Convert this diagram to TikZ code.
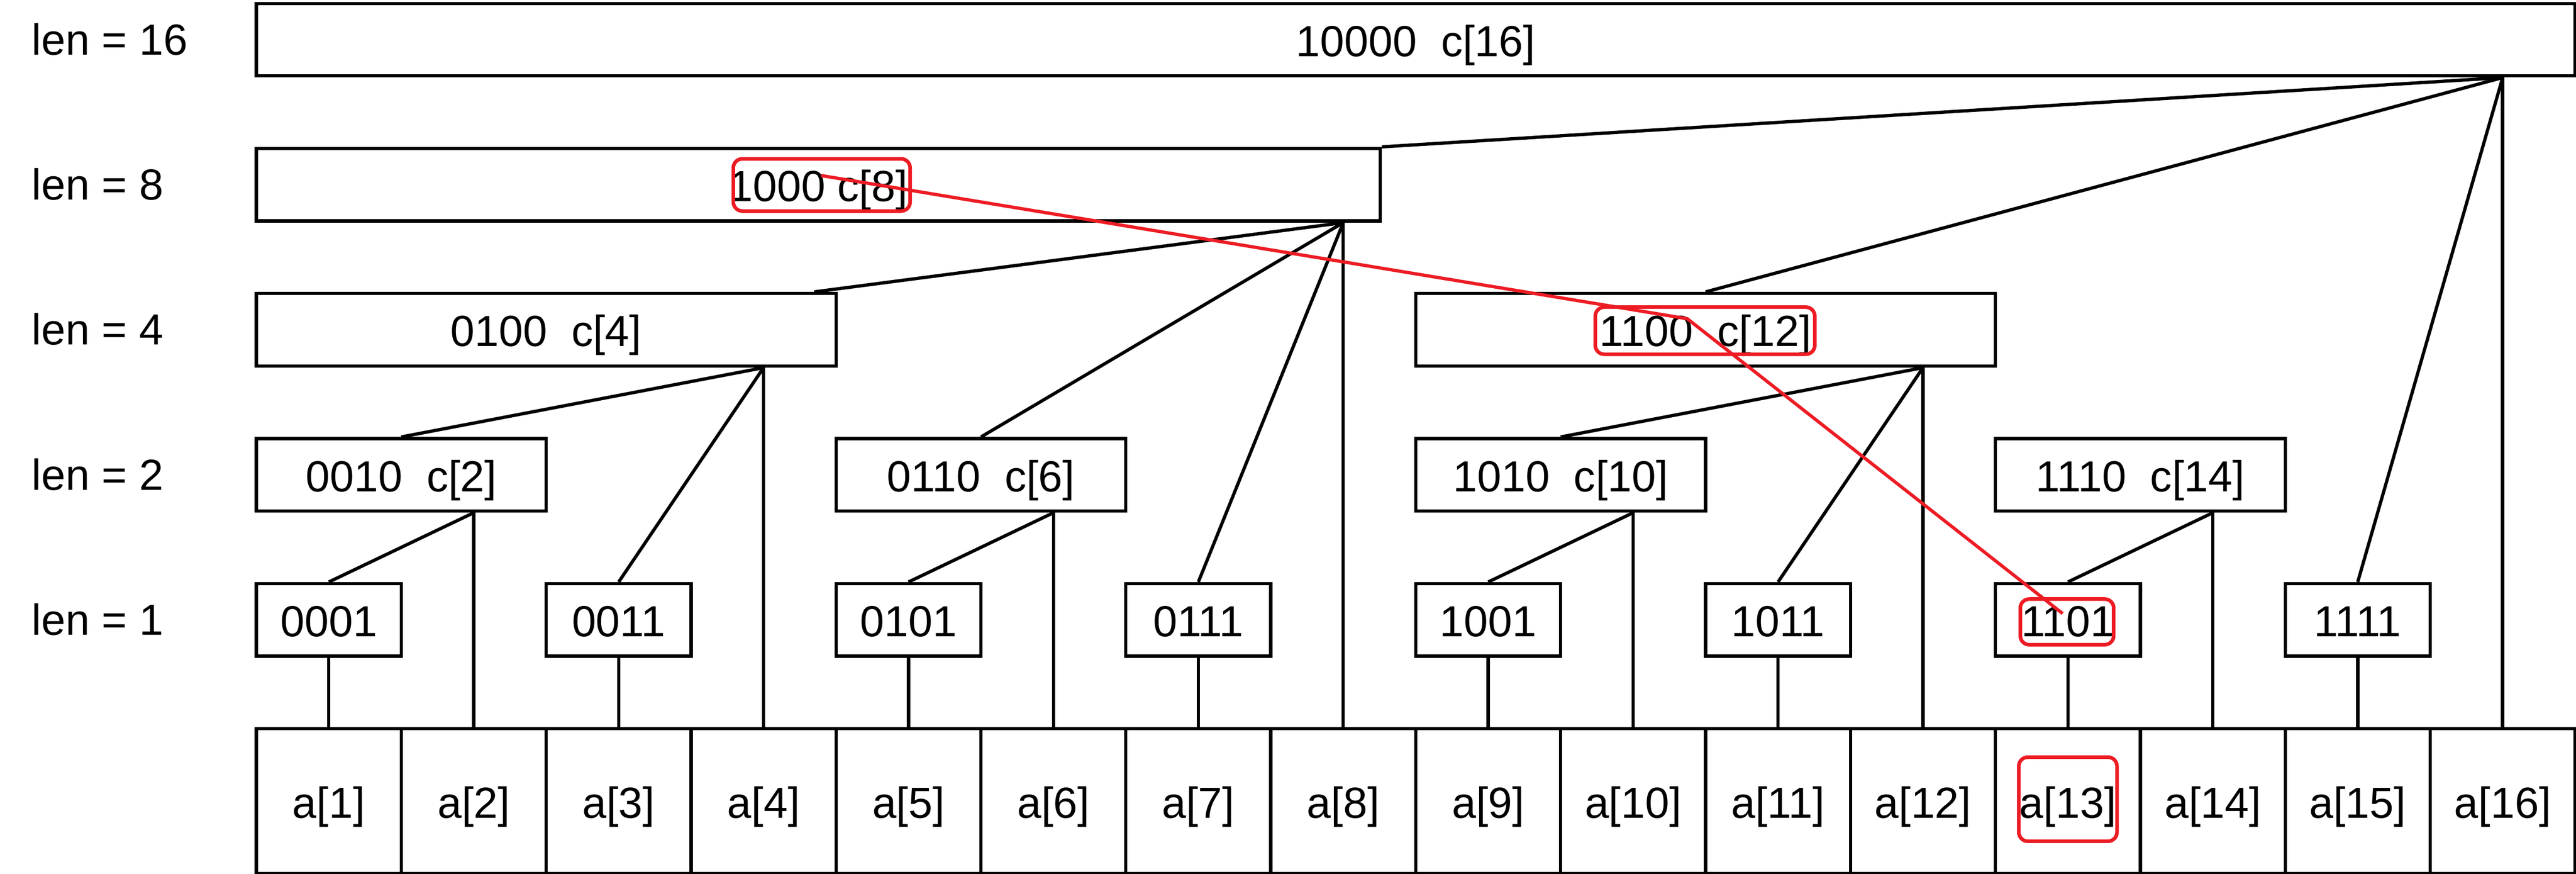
\documentclass[tikz,border=0pt]{standalone}
\usepackage{fontspec}
\setmainfont{Liberation Sans}
\usetikzlibrary{calc}
\definecolor{hired}{RGB}{237,28,36}
\newcommand{\bigtxt}{\fontsize{34.14pt}{41pt}\selectfont}
\begin{document}
\begin{tikzpicture}[
  bx/.style={draw, line width=0.09cm, inner sep=0pt, minimum height=2cm, text height=0.92cm, text depth=0cm, anchor=north west, font=\bigtxt},
  leaf/.style={bx, minimum width=4cm, minimum height=4cm},
  lbl/.style={inner sep=0pt, anchor=base west, font=\bigtxt},
  conn/.style={draw, line width=0.09cm},
  redbox/.style={draw=hired, line width=0.1cm, rounded corners=0.25cm, inner sep=0pt},
  redline/.style={draw=hired, line width=0.09cm}
]
\useasboundingbox (0,0) rectangle (71.1,-24.1);

% level labels
\node[lbl] (l16) at (0.87,-1.51) {len = 16};
\node[lbl] (l8)  at (0.87,-5.51) {len = 8};
\node[lbl] (l4)  at (0.87,-9.51) {len = 4};
\node[lbl] (l2)  at (0.87,-13.51) {len = 2};
\node[lbl] (l1)  at (0.87,-17.51) {len = 1};

% tree boxes
\node[bx, minimum width=64cm] (c16) at (7.03,-0.05) {10000~~c[16]};
\node[bx, minimum width=31.02cm] (c8) at (7.03,-4.05) {1000 c[8]};
\node[bx, minimum width=16cm] (c4) at (7.03,-8.05) {0100~~c[4]};
\node[bx, minimum width=16cm] (c12) at (39.03,-8.05) {1100~~c[12]};
\foreach \i/\t in {2/0010,6/0110,10/1010,14/1110}
  \node[bx, minimum width=8cm] (c\i) at ({7.03+4*(\i-2)},-12.05) {\t~~c[\i]};
\foreach \i/\t in {1/0001,3/0011,5/0101,7/0111,9/1001,11/1011,13/1101,15/1111}
  \node[bx, minimum width=4cm] (c\i) at ({7.03+4*(\i-1)},-16.05) {\t};

% leaves
\foreach \i in {1,...,16}
  \node[leaf] (a\i) at ({7.03+4*(\i-1)},-20.05) {a[\i]};

% connectors
\foreach \i in {1,3,...,15}
  \draw[conn] (c\i.south) -- (a\i.north);
\foreach \i/\j in {2/1,6/5,10/9,14/13} {
  \draw[conn] (a\i.north |- c\i.south) -- (c\j.north);
  \draw[conn] (a\i.north |- c\i.south) -- (a\i.north);
}
\draw[conn] (a4.north |- c4.south) -- (c2.north);
\draw[conn] (a4.north |- c4.south) -- (c3.north);
\draw[conn] (a4.north |- c4.south) -- (a4.north);
\draw[conn] (a12.north |- c12.south) -- (c10.north);
\draw[conn] (a12.north |- c12.south) -- (c11.north);
\draw[conn] (a12.north |- c12.south) -- (a12.north);
\coordinate (c4in) at ($(c4.north east)+(-0.65,0)$);
\draw[conn] (a8.north |- c8.south) -- (c4in);
\draw[conn] (a8.north |- c8.south) -- (c6.north);
\draw[conn] (a8.north |- c8.south) -- (c7.north);
\draw[conn] (a8.north |- c8.south) -- (a8.north);
\draw[conn] (a16.north |- c16.south) -- (c8.north east);
\draw[conn] (a16.north |- c16.south) -- (c12.north);
\draw[conn] (a16.north |- c16.south) -- (c15.north);
\draw[conn] (a16.north |- c16.south) -- (a16.north);

% red highlights
\node[redbox, minimum width=4.88cm, minimum height=1.44cm] (r8) at (22.68,-5.10) {};
\node[redbox, minimum width=6.06cm, minimum height=1.30cm] (r12) at (47.06,-9.12) {};
\node[redbox, minimum width=2.58cm, minimum height=1.26cm] (r13) at (57.05,-17.15) {};
\node[redbox, minimum width=2.71cm, minimum height=2.32cm] (ra13) at (57.075,-22.04) {};
\coordinate (q1) at (22.66,-4.84);
\coordinate (q2) at (46.57,-8.79);
\coordinate (q3) at (56.93,-16.92);
\draw[redline] (q1) -- (q2) -- (q3);
\end{tikzpicture}
\end{document}
